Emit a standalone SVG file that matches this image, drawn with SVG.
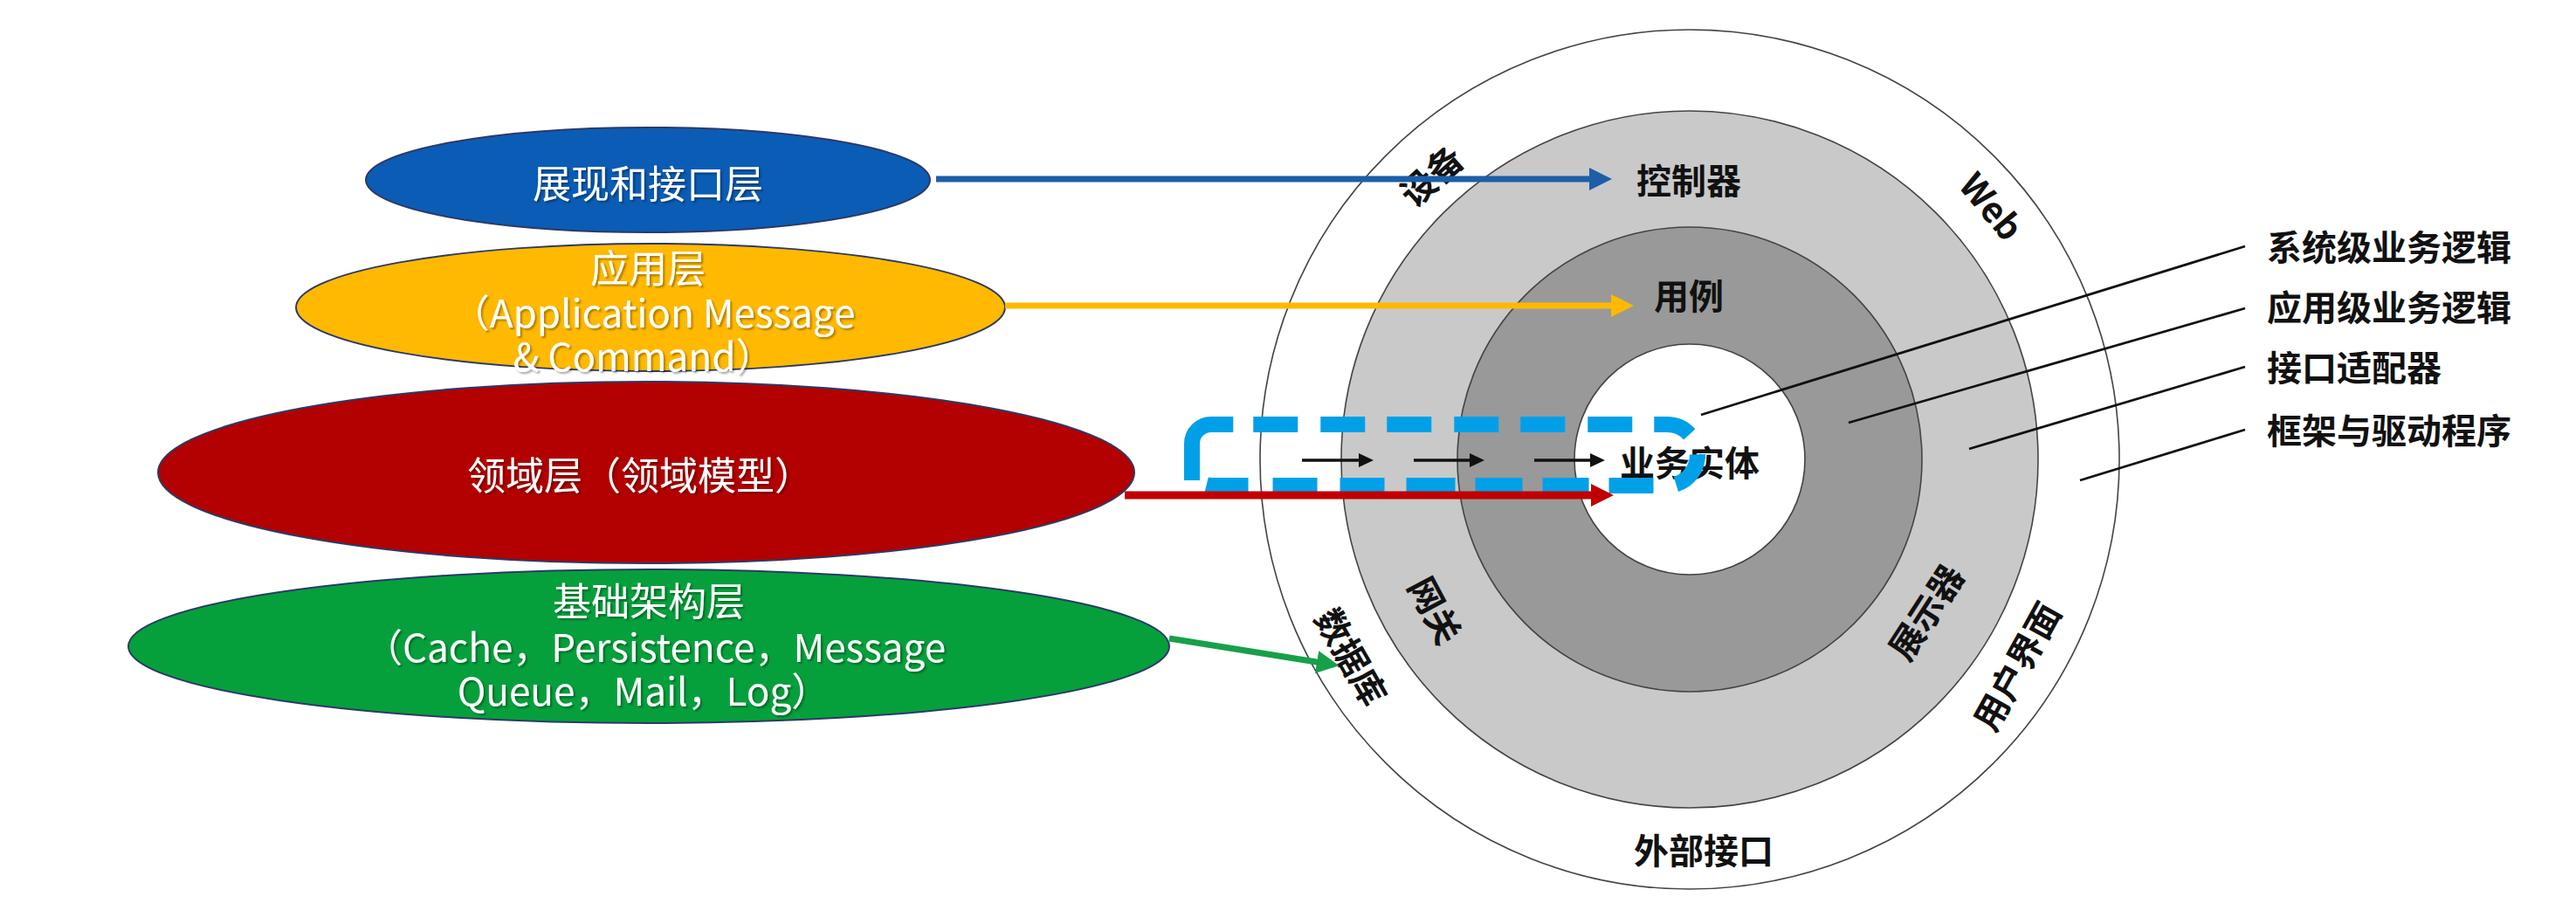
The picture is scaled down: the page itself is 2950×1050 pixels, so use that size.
<svg xmlns="http://www.w3.org/2000/svg" width="2950" height="1050" viewBox="0 0 2950 1050">
<style>
.lt{font-family:"Noto Sans CJK SC","Liberation Sans",sans-serif;font-size:44px;fill:#ffffff;text-anchor:middle;dominant-baseline:central;filter:url(#sh)}
.cl{font-family:"Noto Sans CJK SC","Liberation Sans",sans-serif;font-size:40px;font-weight:bold;fill:#111;text-anchor:middle;dominant-baseline:central}
.rl{font-family:"Noto Sans CJK SC","Liberation Sans",sans-serif;font-size:40px;font-weight:bold;fill:#111;dominant-baseline:central}
.ring{stroke:#444;stroke-width:1.6}
.lead{stroke:#111;stroke-width:2.8;fill:none}
.ell{stroke:#2b3a67;stroke-width:2}
</style>
<defs>
<filter id="sh" x="-10%" y="-30%" width="120%" height="160%"><feDropShadow dx="2" dy="2" stdDeviation="1.2" flood-color="#000" flood-opacity="0.35"/></filter>
<marker id="hb" markerUnits="userSpaceOnUse" markerWidth="28" markerHeight="28" viewBox="0 0 28 28" refX="6" refY="13" orient="auto"><path d="M0,0 L26,13 L0,26 z" fill="#1c5ea8"/></marker>
<marker id="hy" markerUnits="userSpaceOnUse" markerWidth="28" markerHeight="28" viewBox="0 0 28 28" refX="6" refY="13" orient="auto"><path d="M0,0 L26,13 L0,26 z" fill="#ffb900"/></marker>
<marker id="hr" markerUnits="userSpaceOnUse" markerWidth="28" markerHeight="28" viewBox="0 0 28 28" refX="6" refY="13" orient="auto"><path d="M0,0 L26,13 L0,26 z" fill="#c00000"/></marker>
<marker id="hg" markerUnits="userSpaceOnUse" markerWidth="28" markerHeight="28" viewBox="0 0 28 28" refX="6" refY="13" orient="auto"><path d="M0,0 L26,13 L0,26 z" fill="#17a04a"/></marker>
<marker id="hk" markerUnits="userSpaceOnUse" markerWidth="18" markerHeight="18" viewBox="0 0 18 18" refX="4" refY="8" orient="auto"><path d="M0,0 L17,8 L0,16 z" fill="#111"/></marker>
</defs>
<rect width="2950" height="1050" fill="#ffffff"/>

<g id="rings">
<circle class="ring" cx="1935" cy="526" r="492" fill="#ffffff"/>
<circle class="ring" cx="1935" cy="526" r="399" fill="#c9c9c9"/>
<circle class="ring" cx="1935" cy="526" r="266" fill="#999999"/>
<circle class="ring" cx="1935" cy="526" r="132" fill="#ffffff"/>
</g>

<g id="ring-labels">
<text class="cl" x="1934" y="205">控制器</text>
<text class="cl" x="1934" y="337">用例</text>
<text class="cl" x="1951" y="972">外部接口</text>
<text class="cl" transform="translate(1638,200) rotate(-42)">设备</text>
<text class="cl" transform="translate(2282,235) rotate(50)">Web</text>
<text class="cl" transform="translate(1549,751) rotate(60)">数据库</text>
<text class="cl" transform="translate(1645,698) rotate(62)">网关</text>
<text class="cl" transform="translate(2204,700) rotate(-57)">展示器</text>
<text class="cl" transform="translate(2308,762) rotate(-61)">用户界面</text>
</g>

<g id="layer-presentation">
<ellipse class="ell" cx="742" cy="206" rx="323" ry="60" fill="#0b5cb5"/>
<text class="lt" x="742" y="208">展现和接口层</text>
</g>
<g id="layer-application">
<ellipse class="ell" cx="745" cy="352" rx="406" ry="73" fill="#ffb900"/>
<text class="lt" x="742" y="305">应用层</text>
<text class="lt" x="748" y="356">（Application Message</text>
<text class="lt" x="737" y="406">&amp; Command）</text>
</g>
<g id="layer-domain">
<ellipse class="ell" cx="740" cy="541" rx="559" ry="104" fill="#b30000"/>
<text class="lt" x="733" y="542">领域层（领域模型）</text>
</g>
<g id="layer-infrastructure">
<ellipse class="ell" cx="743" cy="740" rx="596" ry="88" fill="#05a03c"/>
<text class="lt" x="743" y="686">基础架构层</text>
<text class="lt" x="750" y="739">（Cache，Persistence，Message</text>
<text class="lt" x="737" y="789">Queue，Mail，Log）</text>
</g>

<g id="right-labels">
<text class="rl" x="2596" y="281">系统级业务逻辑</text>
<text class="rl" x="2596" y="350">应用级业务逻辑</text>
<text class="rl" x="2596" y="419">接口适配器</text>
<text class="rl" x="2596" y="491">框架与驱动程序</text>
</g>

<g id="entity">
<text class="cl" x="1935" y="528">业务实体</text>
</g>

<g id="connectors">
<line class="lead" x1="1948" y1="475" x2="2571" y2="282"/>
<line class="lead" x1="2117" y1="484" x2="2571" y2="353"/>
<line class="lead" x1="2255" y1="514" x2="2571" y2="420"/>
<line class="lead" x1="2382" y1="550" x2="2571" y2="492"/>
<line x1="1072" y1="205" x2="1826" y2="205" stroke="#1c5ea8" stroke-width="7" marker-end="url(#hb)"/>
<line x1="1151" y1="350" x2="1851" y2="350" stroke="#ffb900" stroke-width="7" marker-end="url(#hy)"/>
<line x1="1491" y1="527" x2="1560" y2="527" stroke="#111" stroke-width="3.5" marker-end="url(#hk)"/>
<line x1="1619" y1="527" x2="1687" y2="527" stroke="#111" stroke-width="3.5" marker-end="url(#hk)"/>
<line x1="1757" y1="527" x2="1825" y2="527" stroke="#111" stroke-width="3.5" marker-end="url(#hk)"/>
<path d="M1365,550 L1365,508 A22,22 0 0 1 1387,486 L1909,486 A35,35 0 0 1 1909,556 L1387,556 A22,22 0 0 1 1365,534 Z" fill="none" stroke="#00a0e9" stroke-width="18" stroke-dasharray="101.6 23 51 26 51 25 51 26 51 25 51 26 51 25 43.7 25.1 45.2 26 51 23 53 23 54 23 56 25 51 26 51 28 48 45.6"/>
<line x1="1288" y1="567" x2="1828" y2="567" stroke="#c00000" stroke-width="9" marker-end="url(#hr)"/>
<line x1="1339" y1="731" x2="1514" y2="759" stroke="#17a04a" stroke-width="7" marker-end="url(#hg)"/>
</g>
</svg>
